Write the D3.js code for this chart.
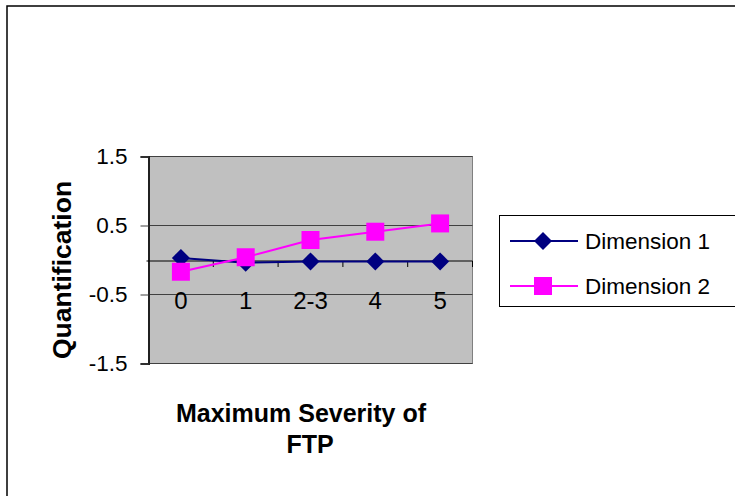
<!DOCTYPE html>
<html>
<head>
<meta charset="utf-8">
<script src="https://cdn.jsdelivr.net/npm/d3@7/dist/d3.min.js"></script>
<style>
  html, body { margin: 0; padding: 0; background: #fff; }
  svg { display: block; }
  text { font-family: "Liberation Sans", Arial, sans-serif; fill: #000; }
</style>
</head>
<body>
<svg id="chart" width="735" height="496"></svg>
<script>
// Category labels (maximum severity of FTP) and the two quantification series
const categories = ["0", "1", "2-3", "4", "5"];
const dimension1 = [0.03, -0.04, -0.02, -0.02, -0.02];
const dimension2 = [-0.17, 0.04, 0.29, 0.41, 0.53];
const yTicks = [-1.5, -0.5, 0.5, 1.5];
const yTickLabels = ["-1.5", "-0.5", "0.5", "1.5"];
const seriesNames = ["Dimension 1", "Dimension 2"];

const svg = d3.select("#chart");

// Outer chart frame
svg.append("rect")
  .attr("x", 7).attr("y", 6)
  .attr("width", 760).attr("height", 520)
  .attr("fill", "#fff").attr("stroke", "#000").attr("stroke-width", 1.5);

const plot = { left: 148.5, right: 472.5, top: 156.5, bottom: 363.5 };

const x = d3.scaleBand().domain(categories).range([plot.left, plot.right]);
const y = d3.scaleLinear().domain([-1.5, 1.5]).range([plot.bottom, plot.top]);
const cx = c => x(c) + x.bandwidth() / 2;

// Plot background
svg.append("rect")
  .attr("x", plot.left).attr("y", plot.top)
  .attr("width", plot.right - plot.left).attr("height", plot.bottom - plot.top)
  .attr("fill", "#c0c0c0").attr("stroke", "#808080").attr("stroke-width", 1);

// Horizontal gridlines
svg.append("g").selectAll("line").data(yTicks).join("line")
  .attr("x1", plot.left).attr("x2", plot.right)
  .attr("y1", d => y(d)).attr("y2", d => y(d))
  .attr("stroke", "#404040").attr("stroke-width", 1);

// Value axis
const yAxis = d3.axisLeft(y).tickValues(yTicks).tickSize(8).tickPadding(13)
  .tickFormat((d, i) => yTickLabels[i]);
const gy = svg.append("g").attr("transform", `translate(${plot.left},0)`).call(yAxis);
gy.attr("font-size", null).attr("font-family", null);
gy.select(".domain").attr("stroke", "#202020").attr("stroke-width", 2);
gy.selectAll(".tick line").attr("stroke", "#404040");
gy.selectAll(".tick text").attr("font-size", 22.5).attr("fill", "#000");

// Category axis crossing at zero
const y0 = y(0) + 1;
svg.append("line")
  .attr("x1", plot.left - 2).attr("x2", plot.right)
  .attr("y1", y0).attr("y2", y0)
  .attr("stroke", "#000").attr("stroke-width", 1.2);
const bounds = categories.slice(1).map(c => x(c)).concat([plot.right]);
svg.append("g").selectAll("line").data(bounds).join("line")
  .attr("x1", d => d).attr("x2", d => d)
  .attr("y1", y0).attr("y2", y0 + 6)
  .attr("stroke", "#000").attr("stroke-width", 1);
svg.append("g").selectAll("text").data(categories).join("text")
  .attr("x", d => cx(d)).attr("y", 309)
  .attr("text-anchor", "middle").attr("font-size", 24)
  .text(d => d);

// Series lines and markers
const line = d3.line().x((d, i) => cx(categories[i])).y(d => y(d));

svg.append("path").datum(dimension1).attr("d", line)
  .attr("fill", "none").attr("stroke", "#000080").attr("stroke-width", 2);
svg.append("path").datum(dimension2).attr("d", line)
  .attr("fill", "none").attr("stroke", "#ff00ff").attr("stroke-width", 2);

const diamond = d3.symbol().type(d3.symbolSquare).size(162);
const square = d3.symbol().type(d3.symbolSquare).size(324);

svg.append("g").selectAll("path").data(dimension1).join("path")
  .attr("d", diamond)
  .attr("transform", (d, i) => `translate(${cx(categories[i])},${y(d)}) rotate(45)`)
  .attr("fill", "#000080");
svg.append("g").selectAll("path").data(dimension2).join("path")
  .attr("d", square)
  .attr("transform", (d, i) => `translate(${cx(categories[i])},${y(d)})`)
  .attr("fill", "#ff00ff");

// Axis titles
svg.append("text")
  .attr("transform", `translate(71,270) rotate(-90)`)
  .attr("text-anchor", "middle").attr("font-size", 26.5).attr("font-weight", "bold")
  .text("Quantification");
svg.append("text")
  .attr("x", 301).attr("y", 422)
  .attr("text-anchor", "middle").attr("font-size", 25).attr("font-weight", "bold")
  .text("Maximum Severity of");
svg.append("text")
  .attr("x", 310).attr("y", 453)
  .attr("text-anchor", "middle").attr("font-size", 25).attr("font-weight", "bold")
  .text("FTP");

// Legend
const legend = svg.append("g");
legend.append("rect")
  .attr("x", 499.5).attr("y", 215.5).attr("width", 260).attr("height", 91)
  .attr("fill", "#fff").attr("stroke", "#000").attr("stroke-width", 1);
const entries = legend.selectAll("g").data(seriesNames).join("g")
  .attr("transform", (d, i) => `translate(0,${241 + i * 45})`);
entries.append("line")
  .attr("x1", 510).attr("x2", 578).attr("y1", 0).attr("y2", 0)
  .attr("stroke", (d, i) => i === 0 ? "#000080" : "#ff00ff").attr("stroke-width", 2);
entries.append("path")
  .attr("d", (d, i) => i === 0 ? diamond() : square())
  .attr("transform", (d, i) => i === 0 ? "translate(543,0) rotate(45)" : "translate(543,0)")
  .attr("fill", (d, i) => i === 0 ? "#000080" : "#ff00ff");
entries.append("text")
  .attr("x", 585).attr("y", 8)
  .attr("font-size", 22.5)
  .text(d => d);
</script>
</body>
</html>
